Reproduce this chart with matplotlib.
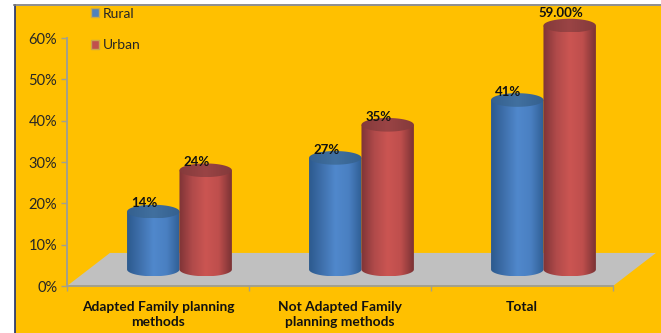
import numpy as np
import matplotlib
matplotlib.use("Agg")
import matplotlib.pyplot as plt
from matplotlib.colors import LinearSegmentedColormap
from matplotlib.patches import Patch, PathPatch, Polygon, Rectangle
from matplotlib.path import Path

# === Data ===
categories = ["Adapted Family planning\nmethods", "Not Adapted Family\nplanning methods", "Total"]
rural = [14, 27, 41]
urban = [24, 35, 59]
rural_labels = ["14%", "27%", "41%"]
urban_labels = ["24%", "35%", "59.00%"]
y_ticks = [0, 10, 20, 30, 40, 50, 60]

# === Style ===
W, H = 661, 333
GOLD = "#FFC000"
AXIS = "#A3A08C"
BAR_W = 0.288
DEPTH_X = 0.236     # floor depth, category units
DEPTH_Y = 8.0       # floor depth, percent units
RY = 1.65           # ellipse half height, percent units

plt.rcParams["font.family"] = ["Lato", "DejaVu Sans"]

blue_body = LinearSegmentedColormap.from_list("blue_body", ["#2C5A8E", "#3F70AC", "#5088CC", "#4A80C2", "#2F5E94"])
red_body = LinearSegmentedColormap.from_list("red_body", ["#7E3436", "#B04A4A", "#CB5552", "#BF4F4D", "#7A3234"])
blue_top = LinearSegmentedColormap.from_list("blue_top", ["#34608F", "#41709F", "#34608F"])
red_top = LinearSegmentedColormap.from_list("red_top", ["#843A3B", "#9A4445", "#843A3B"])

fig = plt.figure(figsize=(W / 100, H / 100), dpi=100, facecolor="white")

# panel background with its thin border
fig.add_artist(Rectangle((14.5 / W, 0), 1, (H - 5.5) / H, transform=fig.transFigure,
                         facecolor=GOLD, edgecolor="none", zorder=-3))
fig.add_artist(plt.Line2D([14.5 / W, 14.5 / W], [0, (H - 5) / H], color="#1F2F6B", lw=1.2, zorder=-2))
fig.add_artist(plt.Line2D([14 / W, 1], [(H - 5) / H, (H - 5) / H], color="#7A7A7A", lw=1.2, zorder=-2))

ax = fig.add_axes([67 / W, (H - 286) / H, 546 / W, 248 / H])
ax.patch.set_visible(False)


def draw_cylinder(ax, center, value, body_cmap, top_cmap):
    base = DEPTH_Y / 2
    top = base + value
    rx = BAR_W / 2
    t = np.linspace(np.pi, 2 * np.pi, 60)
    # side wall: lower half of the base ellipse, closed straight across the cap centre
    xs = np.concatenate([center + rx * np.cos(t), [center + rx, center - rx]])
    ys = np.concatenate([base + RY * np.sin(t), [top, top]])
    wall = Polygon(np.column_stack([xs, ys]), closed=True, transform=ax.transData)
    im = ax.imshow(np.linspace(0, 1, 256)[None, :], cmap=body_cmap, aspect="auto", zorder=3,
                   extent=[center - rx, center + rx, base - RY, top + RY])
    im.set_clip_box(fig.bbox)
    im.set_clip_path(wall)

    a = np.linspace(0, 2 * np.pi, 120)
    cap = Path(np.column_stack([center + rx * np.cos(a), top + RY * np.sin(a)]))
    cap_patch = PathPatch(cap, transform=ax.transData)
    im2 = ax.imshow(np.linspace(0, 1, 256)[None, :], cmap=top_cmap, aspect="auto", zorder=3,
                    extent=[center - rx, center + rx, top - RY, top + RY])
    im2.set_clip_box(fig.bbox)
    im2.set_clip_path(cap_patch)


# grey floor under the cylinders
floor = Polygon([(-0.5, 0), (-0.5 + DEPTH_X, DEPTH_Y), (2.5 + DEPTH_X, DEPTH_Y), (2.5, 0)],
                closed=True, facecolor="#C0C0C0", edgecolor="none", clip_on=False, zorder=1)
ax.add_patch(floor)

x = np.arange(len(categories))
for i in x:
    mid = i + DEPTH_X / 2
    draw_cylinder(ax, mid - BAR_W / 2, rural[i], blue_body, blue_top)
    draw_cylinder(ax, mid + BAR_W / 2, urban[i], red_body, red_top)
    # the tallest label sits a little higher above its cap
    urban_lift = 3.1 if urban[i] == max(urban) else 2.0
    ax.text(mid - BAR_W / 2 - 0.05, DEPTH_Y / 2 + rural[i] + 2.0, rural_labels[i], ha="center", va="center",
            fontsize=9.5, fontweight="bold", color="#111111", zorder=5, clip_on=False)
    ax.text(mid + BAR_W / 2 - 0.05, DEPTH_Y / 2 + urban[i] + urban_lift, urban_labels[i], ha="center", va="center",
            fontsize=9.5, fontweight="bold", color="#111111", zorder=5, clip_on=False)

ax.set_xlim(-0.5, 2.5)
ax.set_ylim(0, 60)

ax.set_yticks(y_ticks)
ax.set_yticklabels([f"{v}%" for v in y_ticks], fontsize=10.5, color="#262626")
ax.set_xticks(x)
ax.set_xticklabels(categories, fontsize=9.9, fontweight="bold", color="#111111", linespacing=1.3)
ax.set_xticks([-0.5, 0.5, 1.5, 2.5], minor=True)
ax.tick_params(axis="x", which="major", length=0, pad=10.5)
ax.tick_params(axis="x", which="minor", length=3.5, color=AXIS, width=1)
ax.tick_params(axis="y", length=4, color=AXIS, width=1, pad=3)

for side in ["top", "right"]:
    ax.spines[side].set_visible(False)
for side in ["left", "bottom"]:
    ax.spines[side].set_color(AXIS)
    ax.spines[side].set_linewidth(1.4)

handles = [Patch(facecolor="#4F81BD", edgecolor="#C9A94A", label="Rural"),
           Patch(facecolor="#C0504D", edgecolor="#C9A94A", label="Urban")]
fig.legend(handles=handles, loc="upper left", bbox_to_anchor=(85 / W, 1 - 2 / H), frameon=False,
           fontsize=10, labelcolor="#262626", handlelength=0.6, handleheight=0.6,
           handletextpad=0.3, labelspacing=1.42, borderaxespad=0)

fig.savefig("out.png", dpi=100, facecolor=fig.get_facecolor())
